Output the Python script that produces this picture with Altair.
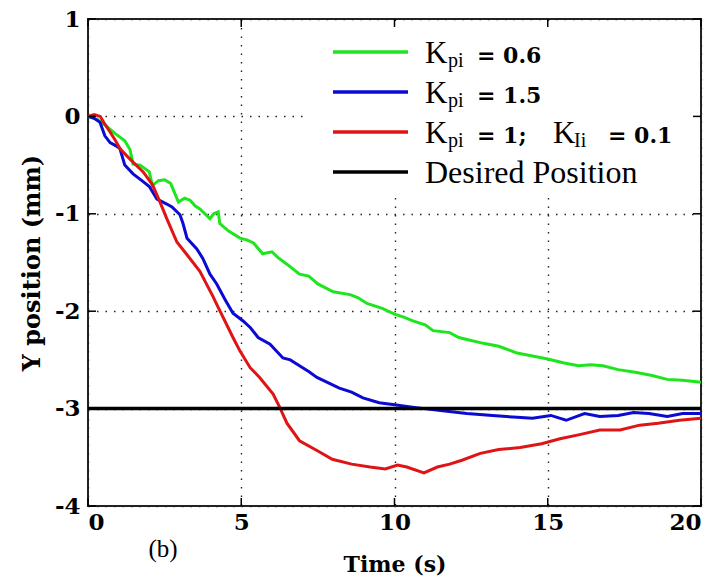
import altair as alt
import pandas as pd

# ---------------- data ----------------
green_t = [0, 0.3, 0.6, 0.9, 1.2, 1.37, 1.47, 1.7, 2.0, 2.1, 2.3, 2.5, 2.7, 2.95, 3.15, 3.33,
           3.5, 3.65, 3.98, 4.1, 4.25, 4.3, 4.6, 4.96, 5.2, 5.4, 5.7, 6.0, 6.2, 6.5, 6.9, 7.2,
           7.5, 8.0, 8.55, 8.8, 9.1, 9.6, 10.0, 10.3, 10.6, 11.0, 11.26, 11.8, 12.1, 12.36, 12.9,
           13.4, 14.0, 14.5, 15.0, 15.5, 16.0, 16.4, 16.8, 17.3, 17.9, 18.4, 18.9, 19.4, 20]
green_y = [0, -0.03, -0.1, -0.18, -0.25, -0.34, -0.49, -0.5, -0.57, -0.71, -0.66, -0.65, -0.69,
           -0.88, -0.84, -0.86, -0.92, -0.95, -1.05, -1.0, -0.98, -1.1, -1.18, -1.25, -1.27,
           -1.3, -1.41, -1.39, -1.45, -1.52, -1.62, -1.64, -1.72, -1.80, -1.83, -1.86, -1.92,
           -1.97, -2.03, -2.06, -2.1, -2.14, -2.2, -2.22, -2.27, -2.29, -2.33, -2.36, -2.43,
           -2.46, -2.49, -2.53, -2.56, -2.55, -2.56, -2.6, -2.63, -2.66, -2.7, -2.71, -2.73]

blue_t = [0, 0.2, 0.39, 0.55, 0.72, 0.9, 1.04, 1.2, 1.47, 1.8, 2.0, 2.25, 2.57, 2.74, 3.0, 3.1,
          3.23, 3.55, 3.75, 3.98, 4.2, 4.47, 4.73, 5.06, 5.3, 5.55, 5.94, 6.36, 6.6, 6.9, 7.2,
          7.47, 8.2, 8.6, 8.97, 9.5, 10.0, 10.7, 11.5, 12.36, 13.2, 14.0, 14.5, 15.1, 15.6,
          16.2, 16.7, 17.3, 17.8, 18.3, 18.9, 19.4, 20]
blue_y = [0, -0.02, -0.06, -0.2, -0.27, -0.3, -0.33, -0.5, -0.59, -0.67, -0.72, -0.85, -0.9,
          -0.93, -1.01, -1.1, -1.25, -1.36, -1.46, -1.62, -1.72, -1.88, -2.02, -2.1, -2.17,
          -2.27, -2.34, -2.48, -2.5, -2.56, -2.62, -2.68, -2.79, -2.83, -2.89, -2.94, -2.96,
          -2.99, -3.02, -3.05, -3.07, -3.09, -3.1, -3.07, -3.12, -3.05, -3.08, -3.07, -3.04,
          -3.05, -3.08, -3.05, -3.05]

red_t = [0, 0.2, 0.4, 0.55, 0.72, 0.9, 1.04, 1.25, 1.47, 1.8, 2.1, 2.35, 2.57, 2.9, 3.23, 3.65,
         4.08, 4.2, 4.73, 4.96, 5.29, 5.6, 6.04, 6.26, 6.49, 6.9, 7.47, 7.97, 8.6, 9.2, 9.7,
         10.1, 10.4, 10.96, 11.4, 11.8, 12.2, 12.8, 13.4, 14.1, 14.8, 15.4, 16.0, 16.7, 17.36,
         18.0, 18.6, 19.3, 20]
red_y = [0, 0.02, 0.0, -0.08, -0.16, -0.25, -0.33, -0.4, -0.47, -0.57, -0.7, -0.88, -1.05,
         -1.29, -1.42, -1.59, -1.85, -1.93, -2.27, -2.41, -2.58, -2.68, -2.85, -2.99, -3.15,
         -3.33, -3.43, -3.52, -3.57, -3.6, -3.62, -3.58, -3.6, -3.66, -3.6, -3.57, -3.53, -3.46,
         -3.42, -3.4, -3.36, -3.31, -3.27, -3.22, -3.22, -3.17, -3.15, -3.12, -3.1]

desired_t = [0, 20]
desired_y = [-3, -3]

x_ticks = [0, 5, 10, 15, 20]
y_ticks = [-4, -3, -2, -1, 0, 1]

GREEN, BLUE, RED, BLACK = "#1ee51e", "#0a0ad2", "#e01414", "#000000"

W, H = 613, 487
SERIF = "Liberation Serif"
BOLDSERIF = "DejaVu Serif"

def series(t, y, name):
    return pd.DataFrame({"t": t, "y": y, "s": name})

df = pd.concat([
    series(green_t, green_y, "g"),
    series(blue_t, blue_y, "b"),
    series(red_t, red_y, "r"),
])

xscale = alt.Scale(domain=[0, 20], nice=False, zero=False)
yscale = alt.Scale(domain=[-4, 1], nice=False, zero=False)

LABEL_EXPR = "datum.value < 0 ? '-' + abs(datum.value) : '' + datum.value"

base_axes = alt.Chart(pd.DataFrame({"t": [0], "y": [0]})).mark_point(opacity=0).encode(
    x=alt.X("t:Q", scale=xscale,
            axis=alt.Axis(values=x_ticks, title="Time (s)", grid=True, gridDash=[1.5, 7],
                          gridColor="#222", gridWidth=1.4, ticks=False, domain=False,
                          labelExpr=LABEL_EXPR,
                          labelFont=BOLDSERIF, labelFontWeight="bold", labelFontSize=23,
                          labelColor="black", labelPadding=5, titleFont=BOLDSERIF,
                          titleFontSize=22, titleFontWeight="bold", titleColor="black",
                          titlePadding=20)),
    y=alt.Y("y:Q", scale=yscale,
            axis=alt.Axis(values=y_ticks, title="Y position (mm)", grid=True, gridDash=[1.5, 7],
                          gridColor="#222", gridWidth=1.4, ticks=False, domain=False,
                          labelExpr=LABEL_EXPR,
                          labelFont=BOLDSERIF, labelFontWeight="bold", labelFontSize=23,
                          labelColor="black", labelPadding=8, titleFont=BOLDSERIF,
                          titleFontSize=24, titleFontWeight="bold", titleColor="black",
                          titlePadding=10)),
)

one = pd.DataFrame({"a": [0]})

# white box behind the legend (hides the dotted grid there)
legend_bg = alt.Chart(one).mark_rect(color="white").encode(
    x=alt.value(217), x2=alt.value(607), y=alt.value(3), y2=alt.value(178))

lines = []
for name, color in [("g", GREEN), ("b", BLUE), ("r", RED)]:
    lines.append(alt.Chart(df[df.s == name]).mark_line(color=color, strokeWidth=3).encode(
        x=alt.X("t:Q", scale=xscale), y=alt.Y("y:Q", scale=yscale)))

desired = alt.Chart(pd.DataFrame({"t": desired_t, "y": desired_y})).mark_line(
    color=BLACK, strokeWidth=3.5).encode(x=alt.X("t:Q", scale=xscale), y=alt.Y("y:Q", scale=yscale))

# inward ticks on all four sides
xt = pd.DataFrame({"t": x_ticks})
yt = pd.DataFrame({"y": y_ticks})
tick_bottom = alt.Chart(xt).mark_rule(color="black", strokeWidth=1.5).encode(
    x=alt.X("t:Q", scale=xscale), y=alt.value(H), y2=alt.value(H - 8))
tick_top = alt.Chart(xt).mark_rule(color="black", strokeWidth=1.5).encode(
    x=alt.X("t:Q", scale=xscale), y=alt.value(0), y2=alt.value(8))
tick_left = alt.Chart(yt).mark_rule(color="black", strokeWidth=1.5).encode(
    y=alt.Y("y:Q", scale=yscale), x=alt.value(0), x2=alt.value(8))
tick_right = alt.Chart(yt).mark_rule(color="black", strokeWidth=1.5).encode(
    y=alt.Y("y:Q", scale=yscale), x=alt.value(W - 8), x2=alt.value(W))

# legend (manual, with subscripts)
KS, SS, VS = 31, 20, 22
legend_layers = []
rows = [
    (GREEN, [("K", 337, 0, KS, SERIF, "normal"), ("pi", 360, 4, SS, SERIF, "normal"),
             ("= 0.6", 389, 0, VS, BOLDSERIF, "bold")]),
    (BLUE, [("K", 337, 0, KS, SERIF, "normal"), ("pi", 360, 4, SS, SERIF, "normal"),
            ("= 1.5", 389, 0, VS, BOLDSERIF, "bold")]),
    (RED, [("K", 337, 0, KS, SERIF, "normal"), ("pi", 360, 4, SS, SERIF, "normal"),
           ("= 1;", 389, 0, VS, BOLDSERIF, "bold"),
           ("K", 465, 0, KS, SERIF, "normal"), ("Ii", 486, 4, SS, SERIF, "normal"),
           ("= 0.1", 520, 0, VS, BOLDSERIF, "bold")]),
    (BLACK, [("Desired Position", 337, 0, 32, SERIF, "normal")]),
]
for i, (color, pieces) in enumerate(rows):
    cy = 33 + 40 * i
    legend_layers.append(alt.Chart(one).mark_rule(color=color, strokeWidth=3.5).encode(
        x=alt.value(245), x2=alt.value(320), y=alt.value(cy)))
    for txt, px, dy, size, font, weight in pieces:
        legend_layers.append(alt.Chart(one).mark_text(
            text=txt, align="left", baseline="alphabetic", font=font, fontSize=size,
            fontWeight=weight, color="black").encode(x=alt.value(px), y=alt.value(cy + 11 + dy)))

label_b = alt.Chart(one).mark_text(text="(b)", align="center", baseline="middle", font=SERIF,
                                   fontSize=25, color="black").encode(
    x=alt.value(75), y=alt.value(530))

chart = alt.layer(
    base_axes, legend_bg, *lines, desired, *legend_layers,
    tick_bottom, tick_top, tick_left, tick_right, label_b,
).properties(
    width=W, height=H,
    padding={"left": 80, "top": 11, "right": 8, "bottom": 72},
    autosize=alt.AutoSizeParams(type="none"),
    background="white",
).configure_view(stroke="#222", strokeWidth=2)

chart.save("out.html", embed_options={"renderer": "svg", "actions": False})
